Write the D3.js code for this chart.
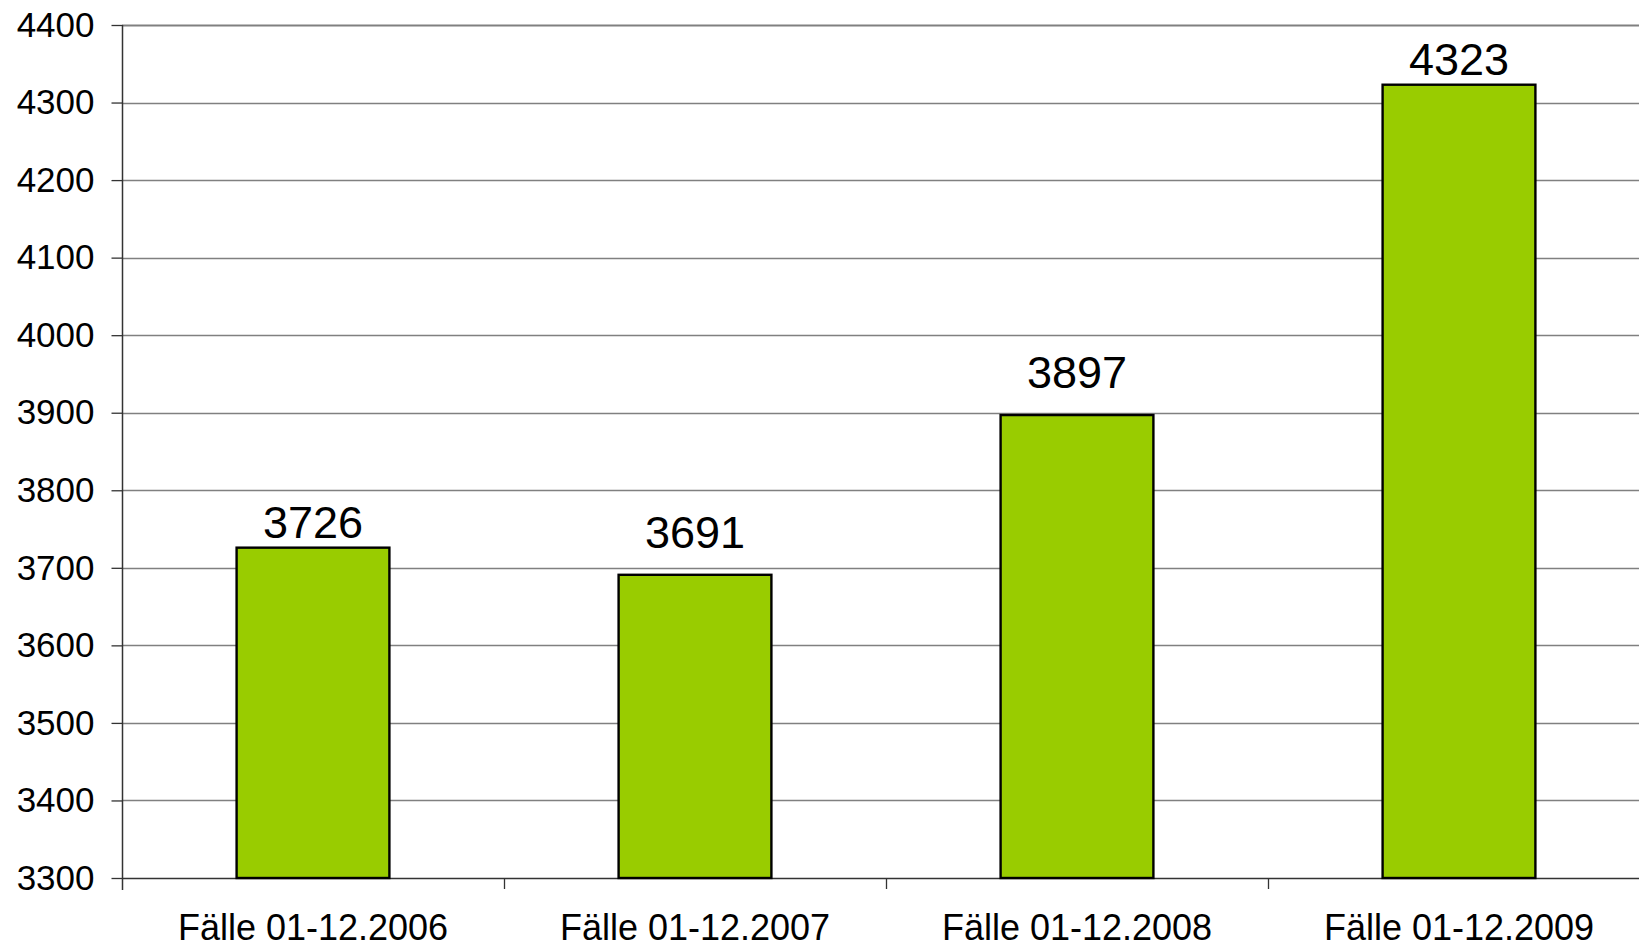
<!DOCTYPE html>
<html>
<head>
<meta charset="utf-8">
<script src="https://cdn.jsdelivr.net/npm/d3@7"></script>
<style>
  body { margin: 0; background: #fff; overflow: hidden; }
  text { font-family: "Liberation Sans", Arial, sans-serif; fill: #000; }
</style>
</head>
<body>
<div id="chart"></div>
<script>
// data
var categories = ["Fälle 01-12.2006", "Fälle 01-12.2007", "Fälle 01-12.2008", "Fälle 01-12.2009"];
var values = [3726, 3691, 3897, 4323];
var yTicks = [3300, 3400, 3500, 3600, 3700, 3800, 3900, 4000, 4100, 4200, 4300, 4400];

var width = 1639;
var height = 947;
var plotLeft = 122, plotRight = 1650, plotTop = 25, plotBottom = 878;

var svg = d3.select("#chart").
append("svg").
attr("width", width).
attr("height", height);

var x = d3.scaleBand().
domain(categories).
range([plotLeft, plotRight]).
paddingInner(0.6).
paddingOuter(0.3);

var y = d3.scaleLinear().
domain([3300, 4400]).
range([plotBottom, plotTop]);

// gridlines
svg.append("g").
selectAll("line").
data(yTicks.slice(1)).
enter().
append("line").
attr("x1", plotLeft).
attr("x2", width).
attr("y1", function (d) {return Math.round(y(d)) + 0.5;}).
attr("y2", function (d) {return Math.round(y(d)) + 0.5;}).
attr("stroke", "#808080").
attr("stroke-width", function (d) {return d === 4400 ? 2 : 1.3;});

// y axis
var yAxis = svg.append("g").
attr("transform", "translate(" + (plotLeft + 0.5) + ",0)").
call(d3.axisLeft(y).tickValues(yTicks).tickSize(11).tickPadding(17).tickFormat(d3.format("d")));
yAxis.select(".domain").attr("stroke", "#333").attr("stroke-width", 1.5).
attr("d", "M0," + plotTop + "V" + (plotBottom + 12));
yAxis.selectAll(".tick line").attr("stroke", "#333").attr("stroke-width", 1.3);
yAxis.selectAll(".tick text").
style("font-family", "'Liberation Sans', Arial, sans-serif").
style("font-size", "35px").
attr("fill", "#000");

// x axis baseline and boundary ticks
svg.append("line").
attr("x1", plotLeft).
attr("x2", width).
attr("y1", plotBottom + 0.5).
attr("y2", plotBottom + 0.5).
attr("stroke", "#333").
attr("stroke-width", 1.5);

var step = x.step();
svg.append("g").
selectAll("line").
data(categories.slice(1)).
enter().
append("line").
attr("x1", function (d) {return Math.round(x(d) - step * x.paddingInner() / 2) + 0.5;}).
attr("x2", function (d) {return Math.round(x(d) - step * x.paddingInner() / 2) + 0.5;}).
attr("y1", plotBottom).
attr("y2", plotBottom + 11).
attr("stroke", "#333").
attr("stroke-width", 1.3);

// x labels
svg.append("g").
selectAll("text").
data(categories).
enter().
append("text").
attr("x", function (d) {return x(d) + x.bandwidth() / 2;}).
attr("y", 940).
attr("text-anchor", "middle").
style("font-size", "36px").
text(function (d) {return d;});

// bars
svg.append("g").
selectAll("rect").
data(values).
enter().
append("rect").
attr("x", function (d, i) {return x(categories[i]);}).
attr("y", function (d) {return y(d);}).
attr("width", x.bandwidth()).
attr("height", function (d) {return plotBottom - y(d);}).
attr("fill", "#99cc00").
attr("stroke", "#000").
attr("stroke-width", 2.4);

// value labels: lifted clear of a gridline that sits just above the bar top
function labelY(d) {
  var top = y(d);
  var near = yTicks.some(function (t) {return y(t) < top && top - y(t) < 10;});
  return top - (near ? 27 : 10);
}
svg.append("g").
selectAll("text").
data(values).
enter().
append("text").
attr("x", function (d, i) {return x(categories[i]) + x.bandwidth() / 2;}).
attr("y", labelY).
attr("text-anchor", "middle").
style("font-size", "45px").
text(function (d) {return d;});
</script>
</body>
</html>
